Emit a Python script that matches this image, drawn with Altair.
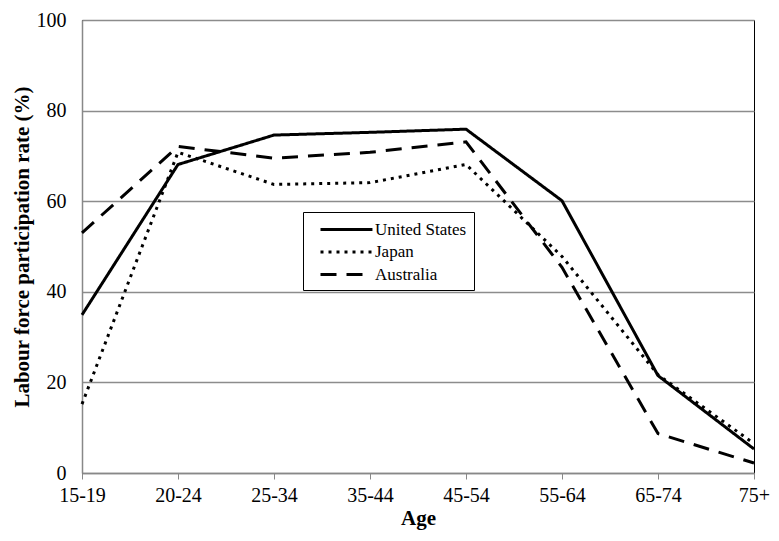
import altair as alt
import pandas as pd

ages = ["15-19", "20-24", "25-34", "35-44", "45-54", "55-64", "65-74", "75+"]
series = ["United States", "Japan", "Australia"]
us = [34.9, 68.1, 74.6, 75.2, 75.9, 60.1, 21.5, 5.3]
japan = [15.2, 70.8, 63.7, 64.1, 68.1, 47.8, 21.7, 6.5]
australia = [53.0, 72.1, 69.5, 70.8, 73.1, 45.4, 8.7, 2.2]

rows = []
for name, vals in zip(series, [us, japan, australia]):
    for a, v in zip(ages, vals):
        rows.append({"Age": a, "Series": name, "Rate": v})
df = pd.DataFrame(rows)

FONT = "Liberation Serif"

chart = alt.Chart(df).mark_line(color="black", strokeWidth=3).encode(
    x=alt.X("Age:N", sort=ages, scale=alt.Scale(type="point", padding=0),
            axis=alt.Axis(title="Age", labelAngle=0, tickSize=6, tickColor="#888888",
                          domainColor="#888888", domainWidth=1.5, labelPadding=6,
                          titlePadding=2, grid=False)),
    y=alt.Y("Rate:Q", scale=alt.Scale(domain=[0, 100], nice=False),
            axis=alt.Axis(title="Labour force participation rate (%)", values=[0, 20, 40, 60, 80, 100],
                          ticks=False, labelPadding=16, titlePadding=4,
                          domainColor="#888888", domainWidth=1.5,
                          gridColor="#8c8c8c", gridWidth=1.5)),
    strokeDash=alt.StrokeDash("Series:N", sort=series,
        scale=alt.Scale(domain=series, range=[[1, 0], [3, 5], [16, 10]]),
        legend=alt.Legend(title=None, orient="none", legendX=221, legendY=192,
                          symbolType="M0,0H6", symbolSize=300, symbolStrokeWidth=3,
                          symbolStrokeColor="black",
                          strokeColor="black", fillColor="white", padding=7,
                          rowPadding=3.5, labelFontSize=17, labelFont=FONT,
                          labelColor="black", labelOffset=44)),
    detail="Series:N",
).properties(
    width=672, height=453,
    autosize=alt.AutoSizeParams(type="none"),
    padding={"left": 74, "top": 12, "right": 16, "bottom": 57},
).configure_view(
    stroke="black", strokeWidth=1
).configure_axis(
    labelFont=FONT, labelFontSize=20, labelColor="black",
    titleFont=FONT, titleFontSize=21, titleFontWeight="bold", titleColor="black",
).configure_legend(
    strokeWidth=1
)

chart.save("out.html", embed_options={"renderer": "svg", "actions": False})
